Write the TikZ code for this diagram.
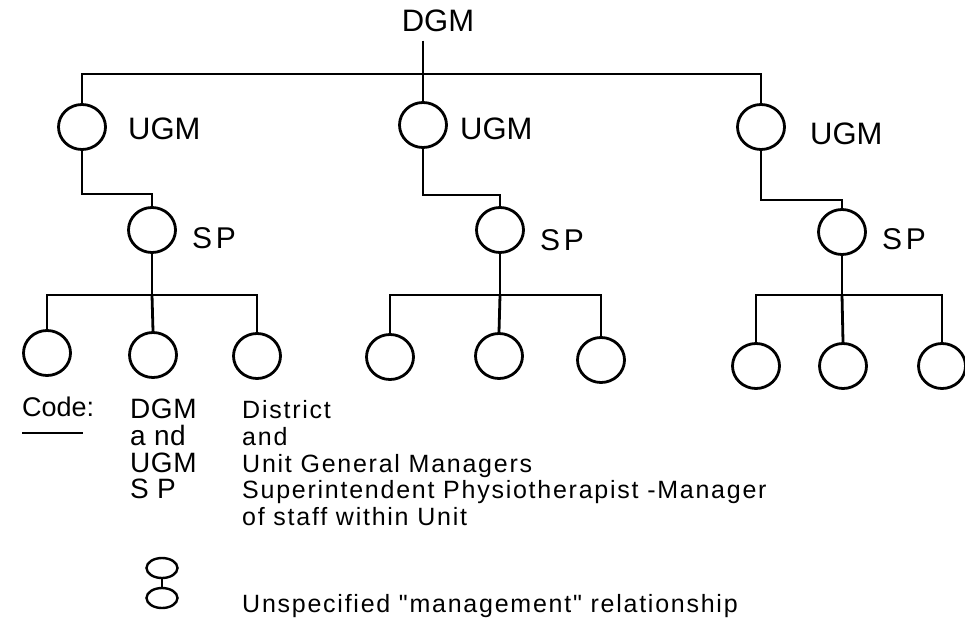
\documentclass[tikz,border=0pt]{standalone}
\usepackage{fontspec}
\setmainfont{Liberation Sans}
\newfontfamily\keyfont[LetterSpace=7]{Liberation Sans}
\newfontfamily\spfont[LetterSpace=12]{Liberation Sans}
\newfontfamily\abbrfont[LetterSpace=2]{Liberation Sans}
\usetikzlibrary{shapes.geometric}
\tikzset{
  post/.style={draw, ellipse, line width=2.8pt, inner sep=0pt,
    minimum width=47pt, minimum height=45pt},
  keypost/.style={draw, ellipse, line width=2.4pt, inner sep=0pt,
    minimum width=31pt, minimum height=20pt},
  link/.style={line width=2.8pt},
  big/.style={font=\fontsize{31}{33}\selectfont, inner sep=0pt, anchor=base west},
  sp/.style={font=\spfont\fontsize{30}{33}\selectfont, inner sep=0pt, anchor=base west},
  abbr/.style={font=\abbrfont\fontsize{28}{30}\selectfont, inner sep=0pt, anchor=base west},
  keytext/.style={font=\keyfont\fontsize{25}{27}\selectfont, inner sep=0pt,
    anchor=base west},
}
\begin{document}
\begin{tikzpicture}[x=1pt,y=-1pt]
\useasboundingbox (0,0) rectangle (965,639);

% ---- top of the tree
\node[big, anchor=base] (dgm) at (438,32) {DGM};

\node[post] (ugm1) at (82,127) {};
\node[post] (ugm2) at (423,125) {};
\node[post] (ugm3) at (761,127) {};
\node[big] (lu1) at (128,140) {UGM};
\node[big] (lu2) at (460,140) {UGM};
\node[big] (lu3) at (810,145) {UGM};

\coordinate (top) at (423,74);
\draw[link] (dgm.south -| ugm2.north) ++(0,8) -- (ugm2.north);
\draw[link] (ugm1.north) |- (top) -| (ugm3.north);

% ---- superintendents
\node[post] (sp1) at (152,230) {};
\node[post] (sp2) at (500,230) {};
\node[post] (sp3) at (842,232) {};
\node[sp] (ls1) at (192,248) {SP};
\node[sp] (ls2) at (540,250) {SP};
\node[sp] (ls3) at (882,249) {SP};

\coordinate (j1) at (152,194);
\coordinate (j2) at (500,195);
\coordinate (j3) at (842,200);
\draw[link] (ugm1.south) |- (j1) -- (sp1.north);
\draw[link] (ugm2.south) |- (j2) -- (sp2.north);
\draw[link] (ugm3.south) |- (j3) -- (sp3.north);

% ---- staff
\node[post] (c11) at (47,353) {};
\node[post] (c12) at (153,355) {};
\node[post] (c13) at (257,356) {};
\node[post] (c21) at (390,357) {};
\node[post] (c22) at (499,356) {};
\node[post] (c23) at (601,360) {};
\node[post] (c31) at (756,366) {};
\node[post] (c32) at (843,366) {};
\node[post] (c33) at (942,366) {};

\coordinate (b1) at (152,295);
\coordinate (b2) at (500,295);
\coordinate (b3) at (842,295);
\draw[link] (sp1.south) -- (b1);
\draw[link] (c11.north) |- (b1) -| (c13.north);
\draw[link] (b1) -- (c12.north);
\draw[link] (sp2.south) -- (b2);
\draw[link] (c21.north) |- (b2) -| (c23.north);
\draw[link] (b2) -- (c22.north);
\draw[link] (sp3.south) -- (b3);
\draw[link] (c31.north) |- (b3) -| (c33.north);
\draw[link] (b3) -- (c32.north);

% ---- key
\node[inner sep=0pt, anchor=base west, font=\fontsize{27}{30}\selectfont] (code) at (22,416) {Code:};
\draw[line width=1.6pt] ([yshift=-17pt]code.base west) -- ++(61,0);

\node[abbr] (a1) at (130,418) {DGM};
\node[abbr] (a2) at (130,445) {a nd};
\node[abbr] (a3) at (130,472) {UGM};
\node[abbr] (a4) at (130,498) {S P};

\node[keytext] (m1) at (242,418) {District};
\node[keytext] (m2) at (242,445) {and};
\node[keytext] (m3) at (242,472) {Unit General Managers};
\node[keytext] (m4) at (242,498) {Superintendent Physiotherapist -Manager};
\node[keytext] (m5) at (242,525) {of staff within Unit};

\node[keypost] (k1) at (162,568) {};
\node[keypost] (k2) at (162,598) {};
\draw[line width=2.4pt] (k1.south) -- (k2.north);
\node[keytext] (rel) at (242,612) {Unspecified "management" relationship};
\end{tikzpicture}
\end{document}
